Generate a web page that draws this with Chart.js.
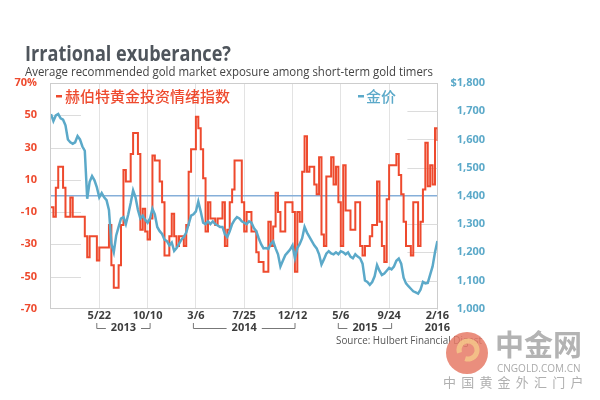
<!DOCTYPE html>
<html>
<head>
<meta charset="utf-8">
<script src="https://cdn.jsdelivr.net/npm/chart.js@4.4.1/dist/chart.umd.min.js"></script>
<style>
  html, body { margin: 0; padding: 0; background: #fff; }
</style>
</head>
<body>
<canvas id="chart" width="600" height="400"></canvas>
<script>
const titleText = 'Irrational exuberance?'
const subtitleText = 'Average recommended gold market exposure among short-term gold timers'
const sourceText = 'Source: Hulbert Financial Digest'
const sentimentLabel = '赫伯特黄金投资情绪指数'
const goldLabel = '金价'

// x axis is in weeks from the first observation; a tick every 20 weeks
const dateTicks = ['', '5/22', '10/10', '3/6', '7/25', '12/12', '5/6', '9/24', '2/16']
const yearLabels = ['2013', '2014', '2015', '2016']
const yearSpans = [[20, 40], [60, 100], [120, 140], [160, 160]]

// Hulbert gold newsletter sentiment index, % (weekly)
const sentiment = [
  -7, -13, 5, 18, 18, 5, -13, -13, -1, -13,
  -13, -13, -13, -13, -25, -38, -25, -25, -25, -40,
  -32, -32, -32, -32, -18, -43, -57, -57, -43, -18,
  16, 9, 9, 26, 39, 39, 26, -21, -8, -22,
  -27, -14, 25, 22, 22, 9, -4, -37, -37, -25,
  -11, -25, -31, -25, -25, -31, -18, 15, 29, 29,
  49, 42, 29, 11, -22, -4, -14, -14, -18, -14,
  -14, -4, -31, -21, -4, 4, 22, 22, 22, -4,
  -22, -10, -10, -22, -22, -35, -41, -41, -47, -47,
  -16, -31, -19, 2, -10, -22, -22, -4, -4, -4,
  -10, -47, -10, -16, 15, 37, 15, 18, 18, 7,
  1, 24, -24, -31, 12, 12, 24, 7, 18, -4,
  -31, 19, -9, -9, -21, -21, -4, -4, -31, -37,
  -31, -31, -25, -18, -18, 9, -16, -31, -41, -2,
  19, 19, 19, 26, 13, 1, -16, -31, -31, -37,
  -4, -4, -31, -16, 4, 33, 6, 19, 7, 42,
  34
]

// gold price, $ per ounce (weekly)
const gold = [
  1690, 1665, 1685, 1690, 1675, 1670, 1650, 1600, 1590, 1585,
  1590, 1612, 1600, 1575, 1560, 1390, 1450, 1470, 1455, 1430,
  1395, 1410, 1395, 1385, 1350, 1230, 1200, 1260, 1290, 1320,
  1325, 1300, 1335, 1375, 1420, 1395, 1350, 1320, 1330, 1315,
  1305, 1320, 1355, 1335, 1290, 1275, 1265, 1245, 1240, 1225,
  1235, 1205, 1215, 1230, 1245, 1255, 1270, 1300, 1330, 1335,
  1345, 1380, 1345, 1305, 1300, 1310, 1300, 1310, 1300, 1295,
  1290, 1290, 1265, 1255, 1275, 1300, 1315, 1325, 1320, 1310,
  1305, 1300, 1310, 1305, 1286, 1275, 1250, 1229, 1214, 1215,
  1212, 1230, 1239, 1214, 1193, 1150, 1170, 1190, 1200, 1210,
  1225, 1180, 1215, 1230, 1250, 1290, 1270, 1255, 1240, 1225,
  1214, 1193, 1157, 1175, 1195, 1204, 1196, 1193, 1200, 1193,
  1204, 1200, 1193, 1200, 1185, 1179, 1193, 1185, 1179, 1160,
  1100, 1095, 1085, 1095, 1115, 1155, 1135, 1120, 1125, 1135,
  1145, 1140, 1150, 1170, 1178, 1160, 1110, 1090, 1080, 1071,
  1062, 1058, 1054, 1068, 1095, 1090, 1092, 1121, 1150, 1200,
  1240
]

const RED = '#ee4a2e'
const BLUE = '#5ba9c9'
const GRID = '#e3e3e3'
const BORDER = '#cdcdcd'
const LATIN = '"Open Sans", "Noto Sans", sans-serif'
const CJK = '"Noto Sans CJK SC", sans-serif'

const decor = {
  id: 'decor',
  beforeDatasetsDraw(chart) {
    const { ctx, chartArea: a, scales } = chart
    ctx.save()
    ctx.strokeStyle = BORDER
    ctx.lineWidth = 1
    ctx.beginPath()
    ctx.moveTo(a.left, a.top + 0.5)
    ctx.lineTo(a.right, a.top + 0.5)
    ctx.stroke()
    // short guide marks at each axis side
    ctx.strokeStyle = '#dcdcdc'
    scales.y.ticks.forEach(t => {
      if (Math.abs(t.value) === 70) return
      const y = Math.round(scales.y.getPixelForValue(t.value)) + 0.5
      ctx.beginPath(); ctx.moveTo(a.left, y); ctx.lineTo(a.left + 30, y); ctx.stroke()
    })
    scales.yGold.ticks.forEach(t => {
      if (t.value === 1000 || t.value === 1800 || t.value === 1400) return
      const y = Math.round(scales.yGold.getPixelForValue(t.value)) + 0.5
      ctx.beginPath(); ctx.moveTo(a.right - 30, y); ctx.lineTo(a.right, y); ctx.stroke()
    })
    ctx.restore()
  },
  afterDraw(chart) {
    const { ctx, scales } = chart
    ctx.save()
    ctx.textBaseline = 'alphabetic'
    ctx.textAlign = 'left'
    ctx.fillStyle = '#4f555c'
    ctx.font = 'bold 22px ' + LATIN
    ctx.fillText(titleText, 25, 61, 206)
    ctx.fillStyle = '#444'
    ctx.font = '13px ' + LATIN
    ctx.fillText(subtitleText, 25, 76, 408)

    // legend inside the plot
    ctx.textBaseline = 'middle'
    ctx.font = '500 15px ' + CJK
    ctx.fillStyle = RED
    ctx.fillRect(56, 95, 6, 2.5)
    ctx.fillText(sentimentLabel, 65, 96, 168)
    ctx.fillStyle = BLUE
    ctx.fillRect(358, 95, 6, 2.5)
    ctx.fillText(goldLabel, 366, 96, 31)

    // year labels with brackets
    ctx.font = 'bold 11px ' + LATIN
    ctx.textAlign = 'center'
    ctx.strokeStyle = '#777'
    ctx.lineWidth = 1
    const yy = 328
    yearLabels.forEach((yr, i) => {
      const x0 = scales.x.getPixelForValue(yearSpans[i][0])
      const x1 = scales.x.getPixelForValue(yearSpans[i][1])
      const cx = (x0 + x1) / 2
      ctx.fillStyle = '#3d3d3d'
      ctx.fillText(yr, cx, yy)
      if (x1 > x0) {
        const hw = ctx.measureText(yr).width / 2 + 5
        ctx.beginPath()
        ctx.moveTo(x0 - 2.5, yy - 5); ctx.lineTo(x0 - 2.5, yy + 0.5); ctx.lineTo(cx - hw, yy + 0.5)
        ctx.moveTo(cx + hw, yy + 0.5); ctx.lineTo(x1 + 2.5, yy + 0.5); ctx.lineTo(x1 + 2.5, yy - 5)
        ctx.stroke()
      }
    })

    ctx.textAlign = 'left'
    ctx.fillStyle = '#555'
    ctx.font = '11px ' + LATIN
    ctx.fillText(sourceText, 336, 341, 146)

    // site watermark
    ctx.globalAlpha = 0.85
    ctx.fillStyle = '#e67a66'
    ctx.beginPath(); ctx.arc(467, 353, 21, 0, Math.PI * 2); ctx.fill()
    ctx.strokeStyle = '#f6c889'
    ctx.lineWidth = 5
    ctx.beginPath(); ctx.arc(468, 350, 9, Math.PI * 0.9, Math.PI * 2.6); ctx.stroke()
    ctx.globalAlpha = 1
    ctx.fillStyle = '#b3b3b3'
    ctx.font = 'bold 29px ' + CJK
    ctx.fillText('中金网', 495, 345, 92)
    ctx.font = '10px ' + LATIN
    ctx.fillStyle = '#aaa'
    ctx.fillText('CNGOLD.COM.CN', 497, 369, 88)
    ctx.font = '13px ' + CJK
    ctx.fillStyle = '#b0b0b0'
    Array.from('中国黄金外汇门户').forEach((ch, i) => ctx.fillText(ch, 443 + i * 18.2, 382))
    ctx.restore()
  }
}

const ctx = document.getElementById('chart').getContext('2d')
new Chart(ctx, {
  type: 'line',
  data: {
    datasets: [
      {
        label: goldLabel,
        data: gold.map((v, i) => ({ x: i, y: v })),
        yAxisID: 'yGold',
        borderColor: BLUE,
        borderWidth: 2.5,
        pointRadius: 0,
        tension: 0
      },
      {
        label: sentimentLabel,
        data: sentiment.map((v, i) => ({ x: i, y: v })),
        yAxisID: 'y',
        borderColor: RED,
        borderWidth: 2,
        pointRadius: 0,
        stepped: true
      }
    ]
  },
  options: {
    responsive: false,
    animation: false,
    layout: { padding: { top: 83, left: 0.5, right: 115, bottom: 78 } },
    plugins: { legend: { display: false }, tooltip: { enabled: false } },
    scales: {
      x: {
        type: 'linear',
        min: 0,
        max: 160,
        grid: { color: GRID, drawTicks: false },
        border: { color: BORDER },
        ticks: {
          stepSize: 20,
          autoSkip: false,
          maxRotation: 0,
          padding: 0,
          color: '#3d3d3d',
          font: { family: LATIN, size: 11, weight: 'bold' },
          callback: v => dateTicks[v / 20] || ''
        }
      },
      y: {
        position: 'left',
        min: -70,
        max: 70,
        grid: { display: false, drawTicks: false },
        border: { color: BORDER },
        ticks: {
          stepSize: 20,
          padding: 14,
          color: RED,
          font: { family: LATIN, size: 11, weight: 'bold' },
          callback: v => v === 70 ? v + '%' : v
        }
      },
      yGold: {
        position: 'right',
        min: 1000,
        max: 1800,
        grid: {
          drawTicks: false,
          lineWidth: 1.5,
          color: c => c.tick && c.tick.value === 1400 ? '#86afd9' : 'rgba(0,0,0,0)'
        },
        border: { color: BORDER },
        ticks: {
          stepSize: 100,
          padding: 6.5,
          crossAlign: 'far',
          color: BLUE,
          font: { family: LATIN, size: 11, weight: 'bold' },
          callback: v => (v === 1800 ? '$' : '') + v.toLocaleString('en-US')
        }
      }
    }
  },
  plugins: [decor]
})
</script>
</body>
</html>
